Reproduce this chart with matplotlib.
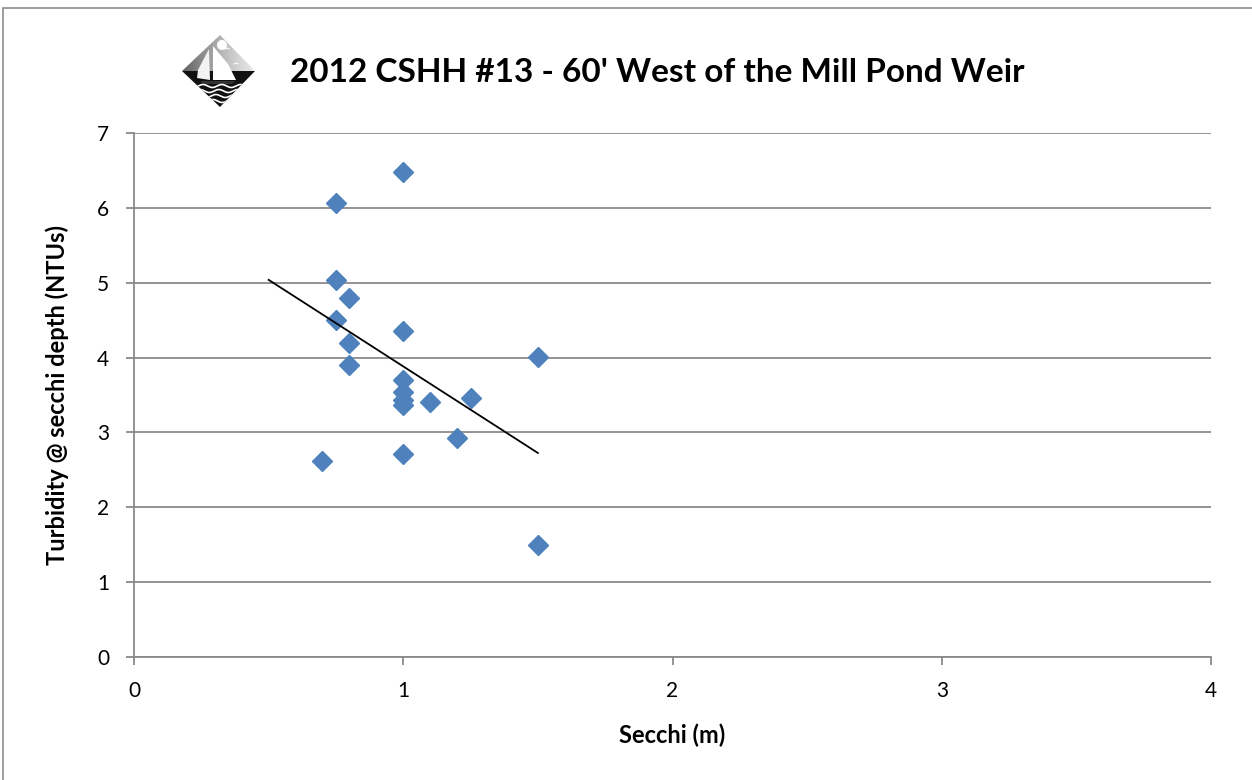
import numpy as np
import matplotlib
matplotlib.use("Agg")
import matplotlib.pyplot as plt
from matplotlib.patches import Polygon, Rectangle, Circle

# readings from the chart
secchi = [1.0, 0.75, 0.75, 0.8, 0.75, 1.0, 0.8, 0.8, 1.5, 1.0,
          1.0, 1.0, 1.0, 1.1, 1.25, 1.2, 0.7, 1.0, 1.5]
turbidity = [6.48, 6.07, 5.03, 4.80, 4.50, 4.36, 4.19, 3.90, 4.01, 3.70,
             3.54, 3.43, 3.37, 3.41, 3.46, 2.92, 2.62, 2.71, 1.49]
trend_range = [0.5, 1.5]
x_ticks = [0, 1, 2, 3, 4]
y_ticks = [0, 1, 2, 3, 4, 5, 6, 7]

title = "2012 CSHH #13 - 60' West of the Mill Pond Weir"

plt.rcParams['font.family'] = ['Lato', 'DejaVu Sans']

W, H = 1252, 780
fig = plt.figure(figsize=(W / 100, H / 100), dpi=100)
fig.patch.set_facecolor('white')

# outer chart border
fig.patches.append(Rectangle((3 / W, -0.1), 1.2, 1 - 8 / H + 0.1, transform=fig.transFigure,
                             fill=False, edgecolor='#8c8c8c', linewidth=1.2))

ax = fig.add_axes([134 / W, 1 - 657 / H, (1211 - 134) / W, (657 - 133) / H])
ax.set_xlim(0, 4)
ax.set_ylim(0, 7)
ax.set_xticks(x_ticks)
ax.set_yticks(y_ticks)
ax.grid(axis='y', color='#8a8a8a', linewidth=1.3)
ax.set_axisbelow(True)
for s in ['top', 'right']:
    ax.spines[s].set_visible(False)
for s in ['left', 'bottom']:
    ax.spines[s].set_color('#8a8a8a')
    ax.spines[s].set_linewidth(1.3)
ax.tick_params(axis='both', direction='out', length=6, width=1.3, color='#8a8a8a',
               labelsize=15, labelcolor='black')
ax.tick_params(axis='x', pad=11)
ax.tick_params(axis='y', pad=12)

ax.plot(secchi, turbidity, linestyle='none', marker='D', markersize=10,
        color='#4f81bd', markeredgecolor='#4f81bd', zorder=3)

# linear trendline
coef = np.polyfit(secchi, turbidity, 1)
tx = np.array(trend_range)
ax.plot(tx, np.polyval(coef, tx), color='black', linewidth=1.3, zorder=4)

ax.set_xlabel('Secchi (m)', fontsize=17, fontweight='bold', va='center')
ax.set_ylabel('Turbidity @ secchi depth (NTUs)', fontsize=17, fontweight='bold', va='center')
ax.xaxis.set_label_coords(0.4995, (657 - 735) / 524)
ax.yaxis.set_label_coords((57 - 134) / 1077, 0.5)

fig.text(657 / W, 1 - 72 / H, title, ha='center', va='center',
         fontsize=24, fontweight='bold')

# small logo: sailboat in a diamond
lg = fig.add_axes([170 / W, 1 - 120 / H, 100 / W, 100 / H])
lg.set_xlim(0, 100)
lg.set_ylim(100, 0)
lg.axis('off')
upper = Polygon([(50, 15), (85, 51), (12, 51)], closed=True, facecolor='none', edgecolor='none')
lg.add_patch(upper)
grad = np.linspace(0, 1, 100)[None, :] * np.ones((100, 1))
im = lg.imshow(grad, extent=(12, 85, 51, 15), cmap='Greys_r', vmin=-0.6, vmax=1.3, aspect='auto')
im.set_clip_path(upper)
lower = Polygon([(12, 51), (85, 51), (50, 87)], closed=True, facecolor='#111111', edgecolor='none')
lg.add_patch(lower)
lg.add_patch(Circle((52, 25), 5, facecolor='white', edgecolor='none'))
lg.add_patch(Polygon([(43, 26), (58, 44), (66, 60), (43, 60)], closed=True, facecolor='white', edgecolor='none'))
lg.add_patch(Polygon([(39, 29), (28, 50), (27, 58), (40, 60)], closed=True, facecolor='#f2f2f2', edgecolor='none'))
lg.add_patch(Polygon([(30, 61), (66, 61), (62, 64), (34, 64)], closed=True, facecolor='#333333', edgecolor='none'))
wx = np.linspace(10, 90, 200)
for k, yy in enumerate([66, 71, 76, 81]):
    ln, = lg.plot(wx, yy + 1.5 * np.sin(wx / 3.0 + k), color='white', linewidth=1.2)
    ln.set_clip_path(lower)
lg.plot([55, 57, 59], [29, 28, 29], color='white', linewidth=0.8)
lg.plot([64, 66, 68], [44, 43, 44], color='white', linewidth=0.8)

fig.savefig('out.png', dpi=100)
